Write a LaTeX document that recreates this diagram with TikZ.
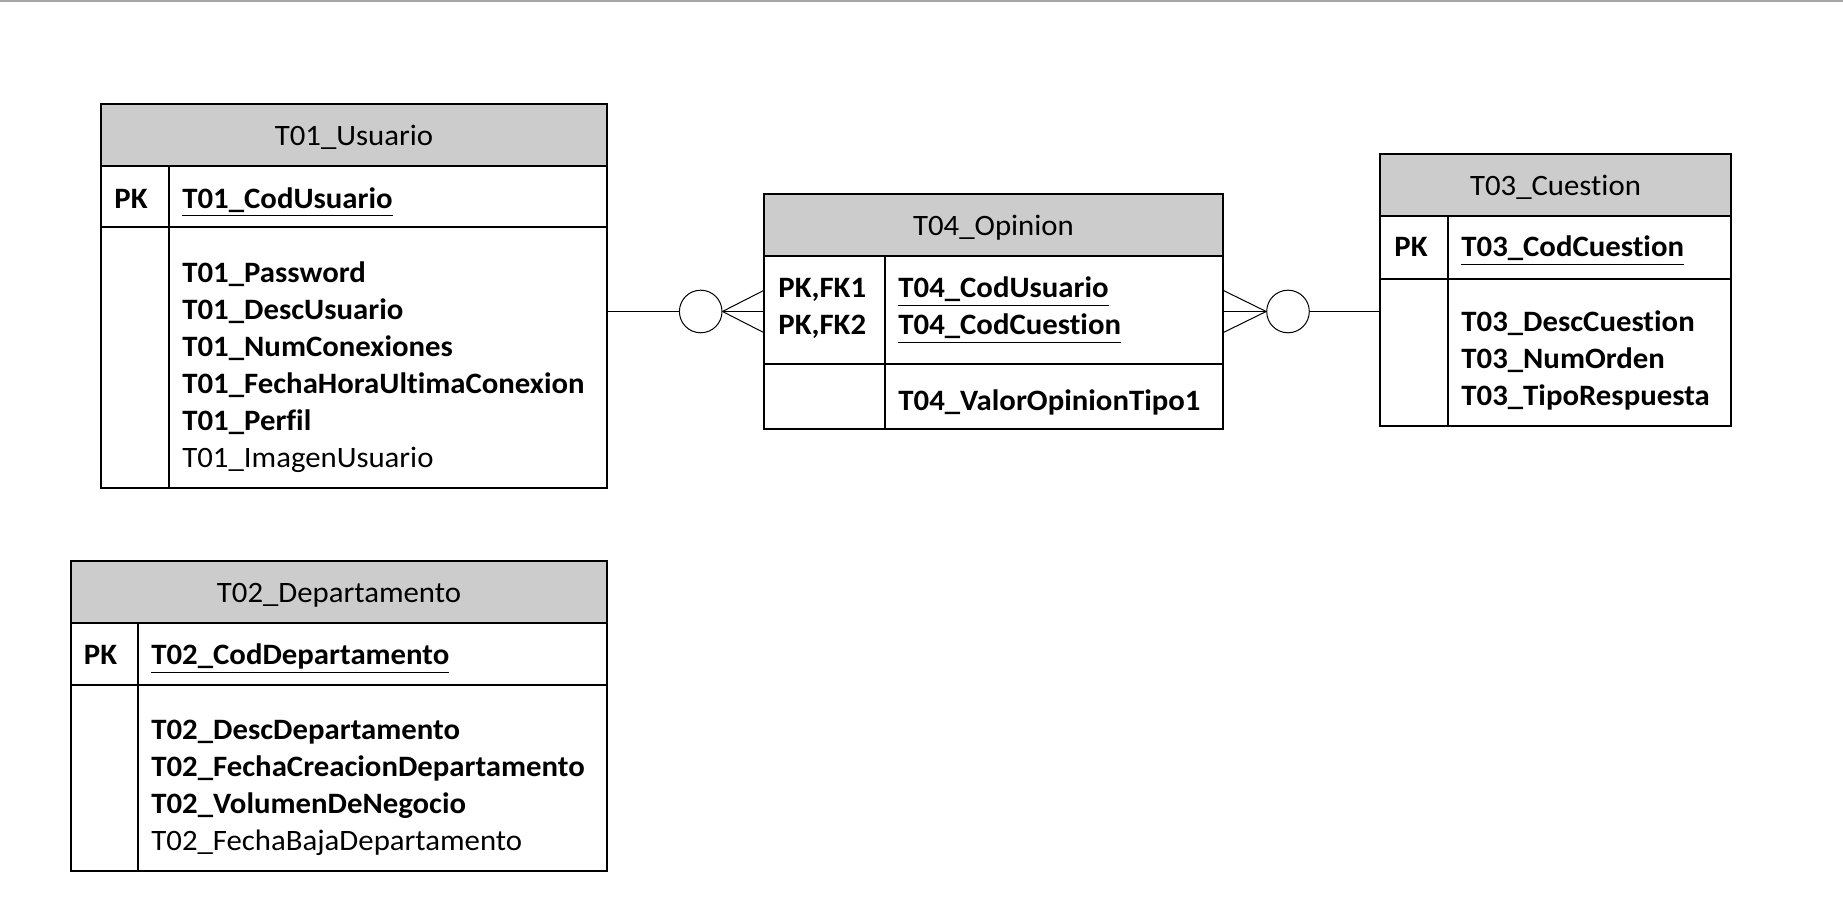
\documentclass[tikz,border=0pt]{standalone}
\usepackage{fontspec}
\setmainfont{Carlito}[FakeStretch=1.04, Ligatures=NoCommon]
\newcommand{\letraER}{\fontsize{14.8pt}{18.5pt}\selectfont}
\definecolor{grisCabecera}{RGB}{204,204,204}
\definecolor{grisLinea}{RGB}{166,166,166}
\tikzset{
  tabla/.style={draw, line width=0.8pt, inner sep=0pt},
  cabecera/.style={draw, fill=grisCabecera, line width=0.8pt},
  separador/.style={line width=0.8pt},
  titulo/.style={anchor=base, inner sep=0pt},
  clave/.style={anchor=base west, inner sep=0pt, align=left, font=\letraER\bfseries},
  campo/.style={anchor=base west, inner sep=0pt, align=left},
  circulo/.style={draw, circle, minimum size=21.3pt, inner sep=0pt, line width=0.5pt},
  rel/.style={line width=0.5pt}
}
\begin{document}
\begin{tikzpicture}[x=0.5pt,y=-0.5pt,font=\letraER]
	\useasboundingbox (0,0) rectangle (1843,924);
	\draw[grisLinea, line width=0.8pt] (0,0.8) -- (1843,0.8);

	% T01_Usuario
	\node[tabla, minimum width=253pt, minimum height=192pt] (usuario) at (354,296) {};
	\draw[cabecera] (101,104) rectangle (607,166);
	\draw[separador] (101,227) -- (607,227) (169,166) -- (169,488);
	\node[titulo] (usuarioTit) at (354,146) {T01\_Usuario};
	\node[clave] (usuarioPK) at (114,208.5) {PK};
	\node[clave] (usuarioCod) at (182,208.5) {\underline{T01\_CodUsuario}};
	\node[campo] (usuarioAtr) at (182,468) {\textbf{T01\_Password}\\ \textbf{T01\_DescUsuario}\\ \textbf{T01\_NumConexiones}\\ \textbf{T01\_FechaHoraUltimaConexion}\\ \textbf{T01\_Perfil}\\ T01\_ImagenUsuario};

	% T02_Departamento
	\node[tabla, minimum width=268pt, minimum height=155pt] (departamento) at (339,716) {};
	\draw[cabecera] (71,561) rectangle (607,623);
	\draw[separador] (71,685) -- (607,685) (138,623) -- (138,871);
	\node[titulo] (departamentoTit) at (339,603) {T02\_Departamento};
	\node[clave] (departamentoPK) at (83.5,664.5) {PK};
	\node[clave] (departamentoCod) at (151,664.5) {\underline{T02\_CodDepartamento}};
	\node[campo] (departamentoAtr) at (151,850) {\textbf{T02\_DescDepartamento}\\ \textbf{T02\_FechaCreacionDepartamento}\\ \textbf{T02\_VolumenDeNegocio}\\ T02\_FechaBajaDepartamento};

	% T03_Cuestion
	\node[tabla, minimum width=175.5pt, minimum height=136pt] (cuestion) at (1555.5,290) {};
	\draw[cabecera] (1380,154) rectangle (1731,216);
	\draw[separador] (1380,279) -- (1731,279) (1448,216) -- (1448,426);
	\node[titulo] (cuestionTit) at (1555.5,196) {T03\_Cuestion};
	\node[clave] (cuestionPK) at (1394,257) {PK};
	\node[clave] (cuestionCod) at (1461,257) {\underline{T03\_CodCuestion}};
	\node[clave] (cuestionAtr) at (1461,406) {T03\_DescCuestion\\ T03\_NumOrden\\ T03\_TipoRespuesta};

	% T04_Opinion
	\node[tabla, minimum width=229.5pt, minimum height=117.5pt] (opinion) at (993.5,311.5) {};
	\draw[cabecera] (764,194) rectangle (1223,256);
	\draw[separador] (764,364) -- (1223,364) (885,256) -- (885,429);
	\node[titulo] (opinionTit) at (993.5,236) {T04\_Opinion};
	\node[clave] (opinionPK) at (778,335) {PK,FK1\\ PK,FK2};
	\node[clave] (opinionCod) at (898,335) {\underline{T04\_CodUsuario}\\ \underline{T04\_CodCuestion}};
	\node[clave] (opinionAtr) at (898,410.6) {T04\_ValorOpinionTipo1};

	% relaciones
	\node[circulo] (circUsuario) at (700.7,311.5) {};
	\draw[rel] (usuario.east |- opinion.west) -- (circUsuario.west);
	\draw[rel] (circUsuario.east) -- (opinion.west);
	\draw[rel] (circUsuario.east) -- ([yshift=10.4pt]opinion.west);
	\draw[rel] (circUsuario.east) -- ([yshift=-10.4pt]opinion.west);

	\node[circulo] (circCuestion) at (1288,311.5) {};
	\draw[rel] (opinion.east) -- (circCuestion.west);
	\draw[rel] ([yshift=10.4pt]opinion.east) -- (circCuestion.west);
	\draw[rel] ([yshift=-10.4pt]opinion.east) -- (circCuestion.west);
	\draw[rel] (circCuestion.east) -- (cuestion.west |- opinion.east);
\end{tikzpicture}
\end{document}
